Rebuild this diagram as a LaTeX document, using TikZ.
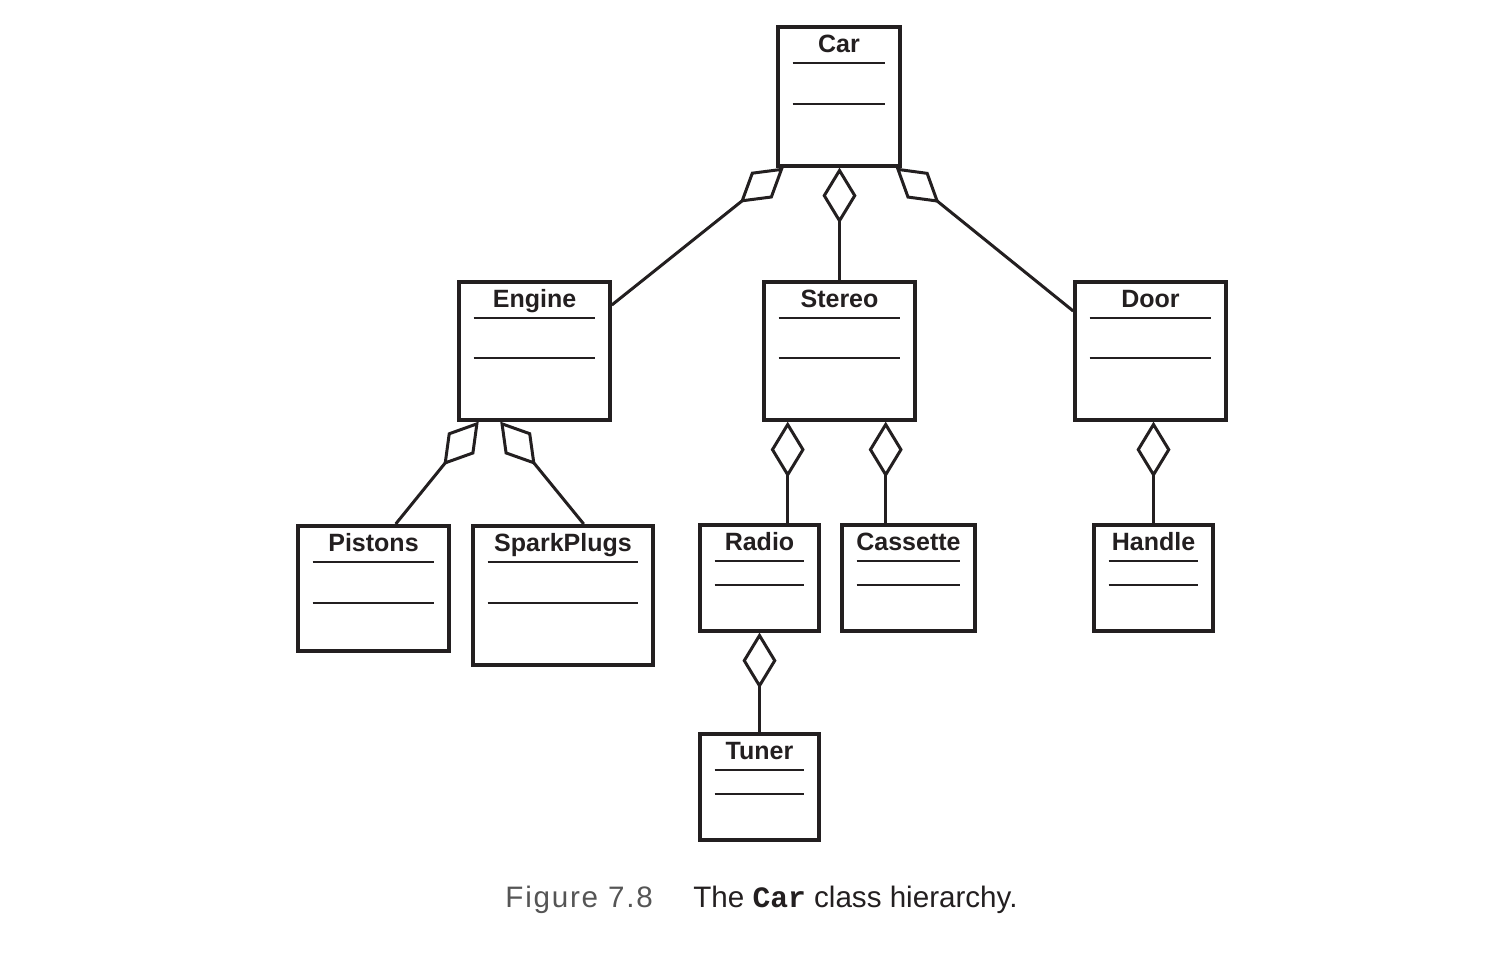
\documentclass[tikz,border=0pt]{standalone}
\usepackage{fontspec}
\setmainfont{Liberation Sans}
\setmonofont{Liberation Mono}
\usepackage{tikz}
\usetikzlibrary{calc,arrows.meta}
\usepackage{xcolor}
\definecolor{ink}{RGB}{35,31,32}
\definecolor{capgray}{RGB}{85,85,85}
\tikzset{
  ubox/.style={draw=ink,fill=white,line width=1.8pt,inner sep=0pt,anchor=north},
  uname/.style={ink,font=\fontsize{12.5}{15}\selectfont\bfseries,inner sep=0pt,anchor=base},
  usep/.style={ink,line width=0.8pt},
  uagg/.style={draw=ink,line width=1.5pt,
    -{Diamond[open,length=28pt,width=17pt,line width=1.5pt]}},
}
% class box: name, centre x, top y, width, height, label, gap between the two rules
\newcommand{\classbox}[7]{%
  \node[ubox,minimum width=#4*0.5pt,minimum height=#5*0.5pt] (#1) at (#2,#3) {};
  \node[uname] (#1-name) at ($(#1.north)+(0,27.5)$) {#6};
  \draw[usep] ($(#1.north west)+(16.5,38)$) -- ($(#1.north east)+(-16.5,38)$);
  \draw[usep] ($(#1.north west)+(16.5,38+#7)$) -- ($(#1.north east)+(-16.5,38+#7)$);
}

\begin{document}
\begin{tikzpicture}[x=0.5pt,y=-0.5pt]
  \useasboundingbox (0,0) rectangle (1510,955);
  % classes
  \classbox{car}{839}{25}{122}{139}{Car}{41}
  \classbox{engine}{534.5}{280}{151}{138}{Engine}{40}
  \classbox{stereo}{839.5}{280}{151}{138}{Stereo}{40}
  \classbox{door}{1150.5}{280}{151}{138}{Door}{40}
  \classbox{pistons}{373.5}{524}{151}{125}{Pistons}{41}
  \classbox{sparkplugs}{563}{524}{180}{139}{SparkPlugs}{41}
  \classbox{radio}{759.5}{523}{119}{106}{Radio}{24}
  \classbox{cassette}{908.5}{523}{133}{106}{Cassette}{24}
  \classbox{handle}{1153.5}{523}{119}{106}{Handle}{24}
  \classbox{tuner}{759.5}{732}{119}{106}{Tuner}{24}
  % aggregation ends on the owners
  \coordinate (car-l) at ($(car.south west)+(7.5,0)$);
  \coordinate (car-r) at ($(car.south east)+(-6,0)$);
  \coordinate (eng-l) at ($(engine.south west)+(21.5,0)$);
  \coordinate (eng-r) at ($(engine.south west)+(43,0)$);
  \coordinate (st-l) at ($(stereo.south west)+(25.5,0)$);
  \coordinate (st-r) at ($(stereo.south west)+(123.5,0)$);
  % aggregations
  \draw[uagg] ($(engine.north east)+(0,25)$) -- (car-l);
  \draw[uagg] (stereo.north) -- (stereo.north |- car.south);
  \draw[uagg] ($(door.north west)+(0,31)$) -- (car-r);
  \draw[uagg] ($(pistons.north west)+(99.5,0)$) -- (eng-l);
  \draw[uagg] ($(sparkplugs.north west)+(112.5,0)$) -- (eng-r);
  \draw[uagg] (radio.north -| st-l) -- (st-l);
  \draw[uagg] (cassette.north -| st-r) -- (st-r);
  \draw[uagg] (handle.north) -- (handle.north |- door.south);
  \draw[uagg] (tuner.north) -- (radio.south);
  % caption
  \node[capgray,font=\fontsize{14.8}{17}\selectfont\addfontfeature{LetterSpace=6},
        inner sep=0pt,anchor=base west] (fignum) at (505,907) {Figure 7.8};
  \node[ink,font=\fontsize{14.8}{17}\selectfont,inner sep=0pt,anchor=base west]
        (figcap) at (693,907) {The \textbf{\ttfamily Car} class hierarchy.};
\end{tikzpicture}
\end{document}
